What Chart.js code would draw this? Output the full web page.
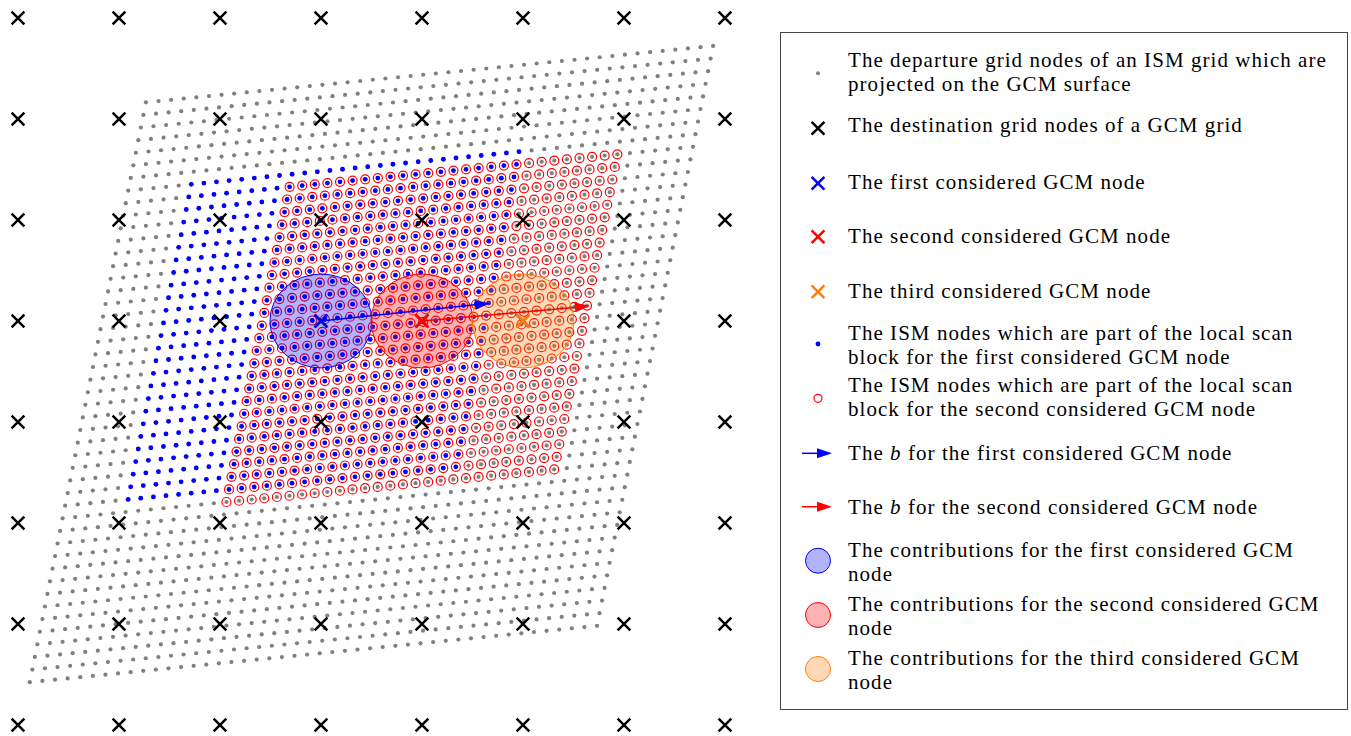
<!DOCTYPE html>
<html>
<head>
<meta charset="utf-8">
<script src="https://cdn.jsdelivr.net/npm/chart.js@4.4.0/dist/chart.umd.min.js"></script>
<style>
  body { margin: 0; background: #fff; width: 1351px; height: 736px; overflow: hidden; position: relative; }
  #plot { position: absolute; left: 0; top: 0; width: 760px; height: 736px; }
  #legendBox { position: absolute; left: 780px; top: 32px; width: 568px; height: 678px; border: 1px solid #444; box-sizing: border-box; }
  .lg { position: absolute; left: 848px; font-family: "Liberation Serif", serif; font-size: 21px; letter-spacing: 1.05px;
        line-height: 24px; white-space: nowrap; color: #000; }
  #legendMarks { position: absolute; left: 780px; top: 32px; }
</style>
</head>
<body>
<div id="plot"><canvas id="c"></canvas></div>
<div id="legendBox"></div>
<svg id="legendMarks" width="80" height="678"></svg>
<script>
// GCM destination grid (data units, y up)
const gcmX = [0, 1, 2, 3, 4, 5, 6, 7];
const gcmY = [0, 1, 2, 3, 4, 5, 6, 7];

// ISM departure grid, projected: top-left node and the two lattice steps
const ismOrigin = [1.267, 6.165];
const ismColStep = [0.1248, 0.0124];
const ismRowStep = [-0.0250, -0.1248];
const ismCols = 46;
const ismRows = 47;

// local scan blocks, as lattice index ranges [first, last]
const blueBlockCols = [5, 31];
const blueBlockRows = [7, 32];
const redBlockCols = [13, 39];
const redBlockRows = [8, 33];

// considered GCM nodes: first, second, third
const consideredNodes = [[3, 4], [4, 4], [5, 4]];
const nodeColors = ['#0000ff', '#ff0000', '#ff7f0e'];
const contribFills = ['rgba(0,0,255,0.3)', 'rgba(255,0,0,0.3)', 'rgba(255,127,14,0.3)'];
const contribRadius = [0.505, 0.465];

// b vectors: start x, start y, end x, end y
const arrowBlue = [3, 4, 4.673, 4.175];
const arrowRed = [4, 4, 5.663, 4.148];

function ismNode(i, j) {
  return {
    x: ismOrigin[0] + i * ismColStep[0] + j * ismRowStep[0],
    y: ismOrigin[1] + i * ismColStep[1] + j * ismRowStep[1]
  };
}

function block(cols, rows) {
  let pts = [];
  for (let j = rows[0]; j <= rows[1]; j++) {
    for (let i = cols[0]; i <= cols[1]; i++) pts.push(ismNode(i, j));
  }
  return pts;
}

let grayPts = block([0, ismCols - 1], [0, ismRows - 1]);
let bluePts = block(blueBlockCols, blueBlockRows);
let redPts = block(redBlockCols, redBlockRows);

let gcmPts = [];
for (let y of gcmY) for (let x of gcmX) gcmPts.push({ x: x, y: y });

let nodePts = consideredNodes.map(n => ({ x: n[0], y: n[1] }));

// ellipses (under the markers) and arrow heads
const shapes = {
  id: 'shapes',
  afterDatasetDraw(chart, args) {
    const ctx = chart.ctx;
    const xs = chart.scales.x, ys = chart.scales.y;
    if (args.index === 4) {
      consideredNodes.forEach((n, k) => {
        const cx = xs.getPixelForValue(n[0]), cy = ys.getPixelForValue(n[1]);
        const rx = Math.abs(xs.getPixelForValue(n[0] + contribRadius[0]) - cx);
        const ry = Math.abs(ys.getPixelForValue(n[1] + contribRadius[1]) - cy);
        ctx.save();
        ctx.beginPath();
        ctx.ellipse(cx, cy, rx, ry, 0, 0, 2 * Math.PI);
        ctx.fillStyle = contribFills[k];
        ctx.fill();
        ctx.lineWidth = 1;
        ctx.strokeStyle = nodeColors[k];
        ctx.stroke();
        ctx.restore();
      });
    }
    if (args.index === 1 || args.index === 2) {
      const a = args.index === 1 ? arrowBlue : arrowRed;
      const x0 = xs.getPixelForValue(a[0]), y0 = ys.getPixelForValue(a[1]);
      const x1 = xs.getPixelForValue(a[2]), y1 = ys.getPixelForValue(a[3]);
      const ang = Math.atan2(y1 - y0, x1 - x0);
      const len = 15, hw = 5;
      ctx.save();
      ctx.translate(x1, y1);
      ctx.rotate(ang);
      ctx.beginPath();
      ctx.moveTo(0, 0);
      ctx.lineTo(-len, -hw);
      ctx.lineTo(-len, hw);
      ctx.closePath();
      ctx.fillStyle = args.index === 1 ? '#0000ff' : '#ff0000';
      ctx.fill();
      ctx.restore();
    }
  }
};

new Chart(document.getElementById('c'), {
  type: 'scatter',
  data: {
    datasets: [
      { // 0 considered nodes
        data: nodePts, pointStyle: 'crossRot', pointRadius: 9, pointBorderWidth: 2.5,
        pointBorderColor: nodeColors, pointBackgroundColor: nodeColors
      },
      { // 1 b, first node
        data: [{ x: arrowBlue[0], y: arrowBlue[1] }, { x: arrowBlue[2] - 0.1, y: arrowBlue[3] - 0.01 }],
        showLine: true, borderColor: '#0000ff', borderWidth: 1.5, pointRadius: 0
      },
      { // 2 b, second node
        data: [{ x: arrowRed[0], y: arrowRed[1] }, { x: arrowRed[2] - 0.1, y: arrowRed[3] - 0.01 }],
        showLine: true, borderColor: '#ff0000', borderWidth: 1.5, pointRadius: 0
      },
      { // 3 GCM grid
        data: gcmPts, pointStyle: 'crossRot', pointRadius: 9, pointBorderWidth: 2.5,
        pointBorderColor: '#000', pointBackgroundColor: '#000'
      },
      { // 4 second local scan block
        data: redPts, pointRadius: 4.5, pointBorderWidth: 1.2,
        pointBorderColor: '#ff0000', pointBackgroundColor: 'rgba(0,0,0,0)'
      },
      { // 5 first local scan block
        data: bluePts, pointRadius: 2.4, pointBorderWidth: 0,
        pointBackgroundColor: '#0000ff'
      },
      { // 6 ISM grid
        data: grayPts, pointRadius: 2.1, pointBorderWidth: 0,
        pointBackgroundColor: '#808080'
      }
    ]
  },
  options: {
    responsive: true,
    maintainAspectRatio: false,
    animation: false,
    events: [],
    layout: { padding: 0, autoPadding: false },
    plugins: { legend: { display: false }, tooltip: { enabled: false } },
    scales: {
      x: { type: 'linear', min: -0.178, max: 7.347, display: false },
      y: { type: 'linear', min: -0.109, max: 7.178, display: false }
    }
  },
  plugins: [shapes]
});

// legend
const legendLabels = [
  ['The departure grid nodes of an ISM grid which are', 'projected on the GCM surface'],
  ['The destination grid nodes of a GCM grid'],
  ['The first considered GCM node'],
  ['The second considered GCM node'],
  ['The third considered GCM node'],
  ['The ISM nodes which are part of the local scan', 'block for the first considered GCM node'],
  ['The ISM nodes which are part of the local scan', 'block for the second considered GCM node'],
  ['The <i>b</i> for the first considered GCM node'],
  ['The <i>b</i> for the second considered GCM node'],
  ['The contributions for the first considered GCM', 'node'],
  ['The contributions for the second considered GCM', 'node'],
  ['The contributions for the third considered GCM', 'node']
];
const legendBaselines = [66.7, 131.7, 189, 243.3, 298.3, 340, 392.3, 460, 514.3, 556.7, 611, 665];
const legendMarkY = [73.3, 128.3, 183.3, 236.7, 291.7, 344, 398.3, 453.3, 506.7, 560.7, 615, 669];
const legendMarks = ['gray', 'x:#000', 'x:#0000ff', 'x:#ff0000', 'x:#ff7f0e', 'blue', 'ring',
  'arrow:#0000ff', 'arrow:#ff0000', 'ell:0', 'ell:1', 'ell:2'];

legendLabels.forEach((lines, k) => {
  lines.forEach((t, m) => {
    let d = document.createElement('div');
    d.className = 'lg';
    d.style.top = (legendBaselines[k] + m * 24 - 19.1) + 'px';
    d.innerHTML = t;
    document.body.appendChild(d);
  });
});

let svg = '';
legendMarks.forEach((mk, k) => {
  const cx = 38, cy = legendMarkY[k] - 32;
  const [kind, arg] = mk.split(':');
  if (kind === 'gray') svg += `<circle cx="${cx}" cy="${cy}" r="2" fill="#808080"/>`;
  if (kind === 'blue') svg += `<circle cx="${cx}" cy="${cy}" r="2.4" fill="#0000ff"/>`;
  if (kind === 'ring') svg += `<circle cx="${cx}" cy="${cy}" r="4" fill="none" stroke="#ff0000" stroke-width="1.2"/>`;
  if (kind === 'x') svg += `<path d="M${cx - 6.4} ${cy - 6.4}L${cx + 6.4} ${cy + 6.4}M${cx + 6.4} ${cy - 6.4}L${cx - 6.4} ${cy + 6.4}" stroke="${arg}" stroke-width="2.5"/>`;
  if (kind === 'arrow') svg += `<path d="M${cx - 16} ${cy}L${cx} ${cy}" stroke="${arg}" stroke-width="1.5"/><path d="M${cx + 14} ${cy}L${cx - 1} ${cy - 5}L${cx - 1} ${cy + 5}Z" fill="${arg}"/>`;
  if (kind === 'ell') svg += `<circle cx="${cx}" cy="${cy}" r="12.5" fill="${contribFills[+arg]}" stroke="${nodeColors[+arg]}" stroke-width="1"/>`;
});
document.getElementById('legendMarks').innerHTML = svg;
</script>
</body>
</html>
